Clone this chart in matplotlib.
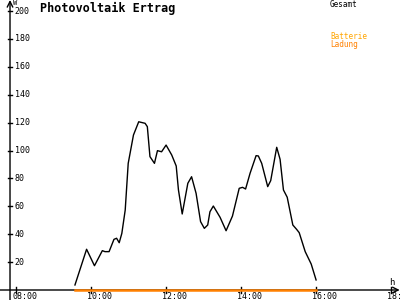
import numpy as np
import matplotlib.pyplot as plt

# Ertrag (W) ueber Uhrzeit (h)
hours = [9.58, 9.89, 10.10, 10.31, 10.38, 10.49, 10.62, 10.69, 10.76, 10.83,
         10.92, 11.00, 11.14, 11.28, 11.45, 11.51, 11.58, 11.70, 11.78, 11.89,
         12.01, 12.16, 12.28, 12.34, 12.44, 12.59, 12.69, 12.81, 12.93, 13.03,
         13.12, 13.18, 13.27, 13.45, 13.61, 13.78, 13.96, 14.05, 14.13, 14.25,
         14.41, 14.47, 14.56, 14.72, 14.80, 14.96, 15.05, 15.14, 15.24, 15.39,
         15.49, 15.56, 15.72, 15.88, 16.01]
gesamt = [3.6, 29.2, 17.4, 28.2, 27.5, 27.5, 36.3, 37.1, 33.9, 40.6,
          57.3, 90.8, 111.1, 120.6, 119.5, 117.1, 95.6, 90.8, 99.9, 99.1,
          103.9, 96.8, 88.9, 71.7, 54.5, 76.5, 81.2, 69.3, 49.0, 44.2,
          46.6, 56.1, 60.2, 52.1, 42.5, 53.0, 72.9, 73.6, 72.4, 83.7,
          96.3, 96.1, 90.8, 74.1, 78.4, 102.3, 93.7, 71.7, 66.5, 46.6,
          43.5, 41.1, 27.5, 18.6, 7.2]
ladung = [0.0] * len(hours)

xticks = [8, 10, 12, 14, 16, 18]
xlabels = ["08:00", "10:00", "12:00", "14:00", "16:00", "18:"]
yticks = [20, 40, 60, 80, 100, 120, 140, 160, 180, 200]

mono = "DejaVu Sans Mono"

fig = plt.figure(figsize=(4, 3), dpi=100)
ax = fig.add_axes([0, 0, 1, 1])
ax.set_xlim(7.581, 18.248)
ax.set_ylim(-7.17, 207.9)
ax.axis("off")

x_axis = 7.848  # position of the y axis (h)

# axes with arrows
ax.annotate("", xy=(18.24, 0), xytext=(7.581, 0),
            arrowprops=dict(arrowstyle="->", lw=1, color="black", shrinkA=0, shrinkB=0))
ax.annotate("", xy=(x_axis, 207.9), xytext=(x_axis, -7.17),
            arrowprops=dict(arrowstyle="->", lw=1, color="black", shrinkA=0, shrinkB=0))

# ticks and labels
for t, lab in zip(xticks, xlabels):
    ax.plot([t, t], [-2.5, 2.5], color="black", lw=1)
    ax.text(t - 0.09, -1.2, lab, fontsize=6, family=mono, ha="left", va="top")
for t in yticks:
    ax.plot([x_axis - 0.06, x_axis + 0.06], [t, t], color="black", lw=1)
    ax.text(x_axis + 0.13, t, str(t), fontsize=6, family=mono, ha="left", va="center")

ax.text(x_axis + 0.08, 205.5, "W", fontsize=5, family=mono, ha="left", va="center")
ax.text(17.97, 5.5, "h", fontsize=6.5, family=mono, ha="left", va="center")

ax.plot(hours, gesamt, color="black", lw=1)
ax.plot(hours, ladung, color="#ff8000", lw=1.8, zorder=5)

ax.text(8.65, 201.5, "Photovoltaik Ertrag", fontsize=8.5, family=mono,
        fontweight="bold", ha="left", va="center")
ax.text(16.38, 205, "Gesamt", fontsize=5.5, family=mono, ha="left", va="center")
ax.text(16.38, 181.5, "Batterie", fontsize=5.5, family=mono, color="#ffa500",
        ha="left", va="center")
ax.text(16.38, 176, "Ladung", fontsize=5.5, family=mono, color="#ff8000",
        ha="left", va="center")

fig.savefig("out.png", dpi=100)
